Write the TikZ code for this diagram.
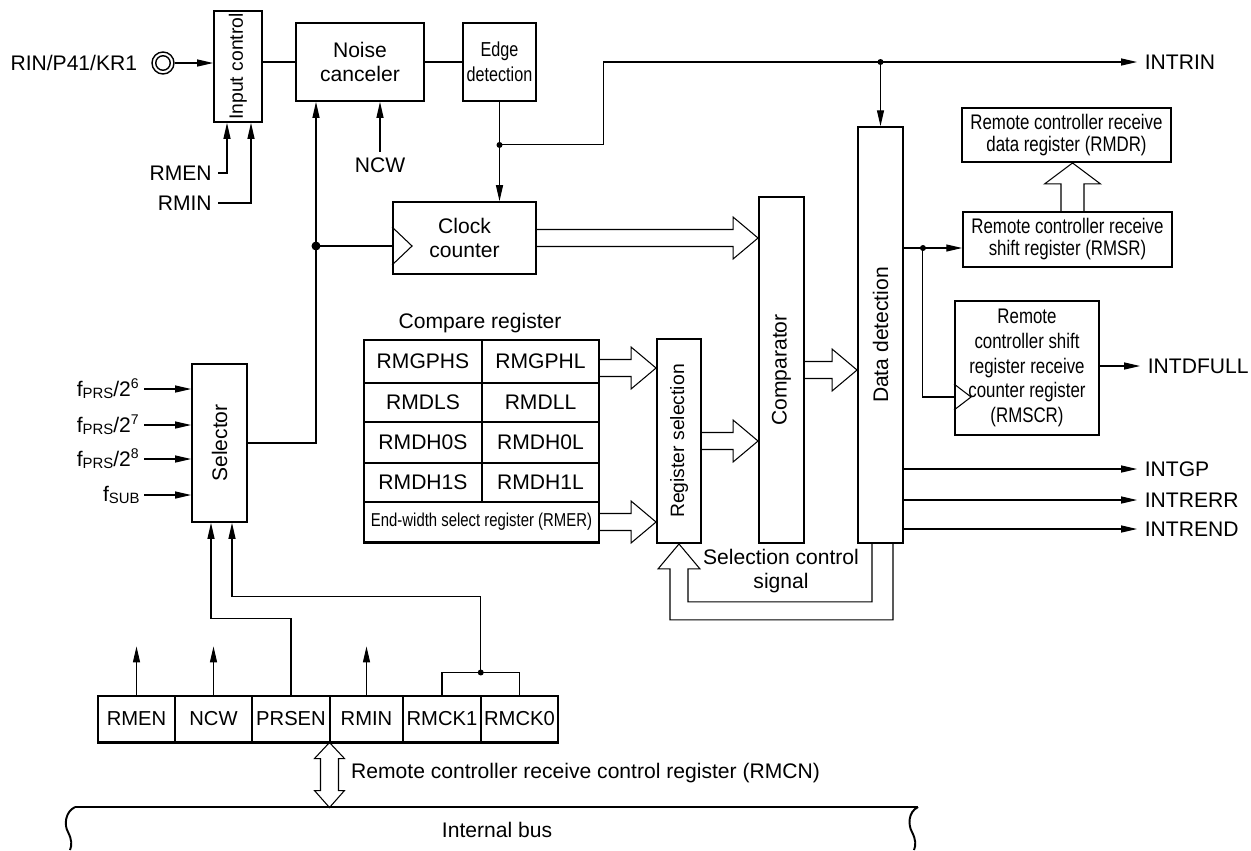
\documentclass[tikz,border=0pt]{standalone}
\usepackage{fontspec}
\setmainfont{Liberation Sans}
\newfontfamily\narrowfont[FakeStretch=0.8]{Liberation Sans}
\usetikzlibrary{arrows.meta, positioning, calc}

\tikzset{
  blk/.style={draw, line width=1.1pt, inner sep=0pt, align=center},
  cell/.style={draw, line width=0.6pt, inner sep=0pt},
  sig/.style={line width=0.6pt},
  arr/.style={sig, -{Triangle[length=9pt,width=4pt]}},
  inlab/.style={anchor=east, inner xsep=0.12cm},
  outlab/.style={anchor=west, inner xsep=0.15cm, inner ysep=0pt},
}

% hollow bus arrow pointing right: #1 start, #2 tip
\newcommand{\fatarrow}[2]{%
  \draw[sig] ($(#1)+(0,-8.5)$) -- ($(#2)+(-25,-8.5)$) -- ($(#2)+(-25,-21)$)
    -- (#2) -- ($(#2)+(-25,21)$) -- ($(#2)+(-25,8.5)$) -- ($(#1)+(0,8.5)$);}
\newcommand{\fprs}[1]{f\raisebox{-0.2ex}{\fontsize{8.5}{9}\selectfont PRS}/2\textsuperscript{#1}}
\newcommand{\fsub}{f\raisebox{-0.2ex}{\fontsize{8.5}{9}\selectfont SUB}}

\begin{document}
\begin{tikzpicture}[x=0.02cm, y=-0.02cm, font=\fontsize{12}{14}\selectfont]
  \useasboundingbox (0,0) rectangle (1251,850);

  % input stage
  \node[blk, minimum width=0.96cm, minimum height=2.22cm,
    label={[rotate=90, font=\fontsize{11}{13}\selectfont]center:Input control}] (inctl) at (238,66.5) {};
  \node[draw, line width=0.8pt, circle, inner sep=0pt, minimum size=0.44cm] (rin) at (163,63) {};
  \draw[line width=0.8pt] (rin.center) circle (0.145cm);
  \node[left=0.16cm of rin] (lrin) {RIN/P41/KR1};
  \draw[arr] (rin.east) -- (rin.east -| inctl.west);
  \node[inlab] (lrmen) at (218,173) {RMEN};
  \node[inlab] (lrmin) at (218,203) {RMIN};
  \draw[arr] (lrmen.east) -| ($(inctl.south)+(-11,0)$);
  \draw[arr] (lrmin.east) -| ($(inctl.south)+(13,0)$);

  % noise canceler, edge detection
  \node[blk, minimum width=2.56cm, minimum height=1.56cm] (noise) at (360,62) {Noise\\canceler};
  \node[blk, minimum width=1.46cm, minimum height=1.56cm,
    font={\narrowfont\fontsize{11.5}{14.5}\selectfont}] (edge) at (499.5,62) {Edge\\detection};
  \draw[sig] (inctl.east |- noise) -- (noise.west);
  \draw[sig] (noise.east) -- (edge.west);
  \node[inner ysep=0.11cm] (lncw) at (380,165) {NCW};
  \draw[arr] (lncw.north) -- (lncw.north |- noise.south);

  % clock counter
  \node[blk, minimum width=2.86cm, minimum height=1.44cm] (clk) at (464.5,238) {Clock\\counter};
  \draw[arr] (edge.south) -- (edge.south |- clk.north);
  \coordinate (ej) at ($(edge.south)+(0,43)$);
  \fill (ej) circle (0.06cm);
  \coordinate (clkin) at ($(clk.west)+(0,8)$);
  \draw[sig] ($(clkin)+(0,-19)$) -- ++(20,19) -- ++(-20,19);

  % selector
  \node[blk, minimum width=1.1cm, minimum height=3.16cm,
    label={[rotate=90]center:Selector}] (sel) at (219.5,443) {};
  \foreach \t/\y [count=\i] in {\fprs{6}/389, \fprs{7}/425, \fprs{8}/459, \fsub/495} {
    \node[inlab, inner xsep=0.08cm] (f\i) at (144,\y) {\t};
    \draw[arr] (f\i.east) -- (f\i.east -| sel.west);
  }
  \coordinate (up) at ($(noise.south)+(-44,0)$);
  \draw[arr] (sel.east) -| (up);
  \fill (up |- clkin) circle (0.09cm);
  \draw[sig] (up |- clkin) -- (clkin);

  % compare register
  \node (lcmp) at (480,323) {Compare register};
  \foreach \a/\b/\yc/\h [count=\i] in {RMGPHS/RMGPHL/361.5/0.86cm, RMDLS/RMDLL/402.5/0.78cm,
      RMDH0S/RMDH0L/442.5/0.82cm, RMDH1S/RMDH1L/482.5/0.78cm} {
    \node[cell, minimum width=2.36cm, minimum height=\h] (l\i) at (423,\yc) {\a};
    \node[cell, minimum width=2.34cm, minimum height=\h] (r\i) at (540.5,\yc) {\b};
  }
  \node[cell, minimum width=4.7cm, minimum height=0.8cm,
    font={\narrowfont\fontsize{10.6}{12}\selectfont}] (rmer) at (481.5,522) {End-width select register (RMER)};
  \draw[line width=1.1pt] (l1.north west) rectangle (rmer.south east);

  % register selection, comparator, data detection
  \node[blk, minimum width=0.88cm, minimum height=4.08cm,
    label={[rotate=90, font=\fontsize{11}{13}\selectfont]center:Register selection}] (rs) at (679,441) {};
  \node[blk, minimum width=0.9cm, minimum height=6.92cm,
    label={[rotate=90]center:Comparator}] (cmp) at (781.5,370) {};
  \node[blk, minimum width=0.9cm, minimum height=8.32cm,
    label={[rotate=90]center:Data detection}] (dd) at (880.5,335) {};

  \coordinate (t1) at (clk.east -| cmp.west);
  \fatarrow{clk.east}{t1}
  \coordinate (s2) at ($(r1.east)+(0,6.5)$);
  \coordinate (t2) at (s2 -| rs.west);
  \fatarrow{s2}{t2}
  \coordinate (t3) at (rmer.east -| rs.west);
  \fatarrow{rmer.east}{t3}
  \coordinate (t4) at (rs.east -| cmp.west);
  \fatarrow{rs.east}{t4}
  \coordinate (t5) at (cmp.east -| dd.west);
  \fatarrow{cmp.east}{t5}

  % selection control feedback
  \draw[sig] ($(dd.south)+(-8.5,0)$) -- ++(0,58) -| ($(rs.south)+(9,25)$) -- ++(12,0) -- (rs.south)
    -- ++(-21,25) -- ++(12,0) |- ($(dd.south)+(12.5,76)$) -- ++(0,-76);
  \node[align=center] (lsc) at (781,571) {Selection control\\signal};

  % INTRIN
  \node[outlab] (lintrin) at (1137,62) {INTRIN};
  \draw[arr] (ej) -- ++(104,0) |- (lintrin.west);
  \coordinate (dj) at (dd.north |- lintrin.west);
  \fill (dj) circle (0.06cm);
  \draw[arr] (dj) -- (dd.north);

  % receive registers
  \node[blk, minimum width=4.18cm, minimum height=1.08cm,
    font={\narrowfont\fontsize{12}{12.5}\selectfont}] (rmdr) at (1066.5,135) {Remote controller receive\\data register (RMDR)};
  \node[blk, minimum width=4.18cm, minimum height=1.1cm,
    font={\narrowfont\fontsize{12}{12.5}\selectfont}] (rmsr) at (1067.5,239.5) {Remote controller receive\\shift register (RMSR)};
  \node[blk, minimum width=2.88cm, minimum height=2.68cm,
    font={\narrowfont\fontsize{12}{14}\selectfont}] (rmscr) at (1027,368) {Remote\\controller shift\\register receive\\counter register\\(RMSCR)};

  \coordinate (ub) at ($(rmsr.north)+(5,0)$);
  \coordinate (ut) at ($(rmdr.south)+(6,0)$);
  \draw[sig] ($(ub)+(-11.5,0)$) -- ($(ut)+(-11.5,21)$) -- ($(ut)+(-28,21)$) -- (ut)
    -- ($(ut)+(28,21)$) -- ($(ut)+(11.5,21)$) -- ($(ub)+(11.5,0)$);

  \coordinate (sr) at ($(rmsr.west)+(0,8.5)$);
  \draw[arr] (dd.east |- sr) -- (sr);
  \path (dd.east |- sr) ++(19,0) coordinate (sj);
  \fill (sj) circle (0.06cm);
  \coordinate (scin) at ($(rmscr.west)+(0,29)$);
  \draw[sig] (sj) |- (scin);
  \draw[sig] ($(scin)+(0,-13)$) -- ++(17,13) -- ++(-17,13);

  % interrupt outputs
  \node[outlab] (ldfull) at (1140,366) {INTDFULL};
  \draw[arr] (rmscr.east |- ldfull.west) -- (ldfull.west);
  \foreach \t/\y [count=\i] in {INTGP/469, INTRERR/500, INTREND/529} {
    \node[outlab] (o\i) at (1137,\y) {\t};
    \draw[arr] (dd.east |- o\i.west) -- (o\i.west);
  }

  % control register RMCN
  \foreach \t/\xc/\w [count=\i] in {RMEN/136.5/1.54cm, NCW/213.5/1.54cm, PRSEN/291/1.56cm,
      RMIN/366.5/1.46cm, RMCK1/442/1.56cm, RMCK0/519.5/1.54cm} {
    \node[cell, minimum width=\w, minimum height=0.92cm,
      font=\fontsize{11.5}{13}\selectfont] (c\i) at (\xc,719) {\t};
  }
  \draw[line width=1.1pt] (c1.north west) rectangle (c6.south east);
  \foreach \i in {1,2,4} \draw[arr] (c\i.north) -- ++(0,-49);
  \draw[arr] (c3.north) -- ++(0,-77) -| ($(sel.south)+(-8.5,0)$);
  \coordinate (ck) at ($(c5.north)!0.5!(c6.north)+(0,-23)$);
  \draw[sig] (c5.north) |- (ck) -| (c6.north);
  \fill (ck) circle (0.06cm);
  \draw[arr] (ck) -- ++(0,-76) -| ($(sel.south)+(12.5,0)$);

  % internal bus
  \coordinate (bb) at (c4.south west);
  \draw[sig] (bb) -- ++(15,16) -- ++(-6,0) -- ++(0,32) -- ++(6,0) -- ++(-15,17)
    -- ++(-15,-17) -- ++(6,0) -- ++(0,-32) -- ++(-6,0) -- cycle;
  \node[anchor=west] (lrmcn) at (345,773) {Remote controller receive control register (RMCN)};
  \draw[line width=1.1pt] (75,807) -- (918,807);
  \draw[line width=1.1pt] (75,807) .. controls (65,812) and (64,825) .. (68,832)
    .. controls (72,840) and (72,845) .. (70,850);
  \draw[line width=1.1pt] (918,807) .. controls (908,812) and (908,825) .. (912,832)
    .. controls (916,840) and (916,845) .. (914,850);
  \node (bus) at (497,830) {Internal bus};
\end{tikzpicture}
\end{document}
